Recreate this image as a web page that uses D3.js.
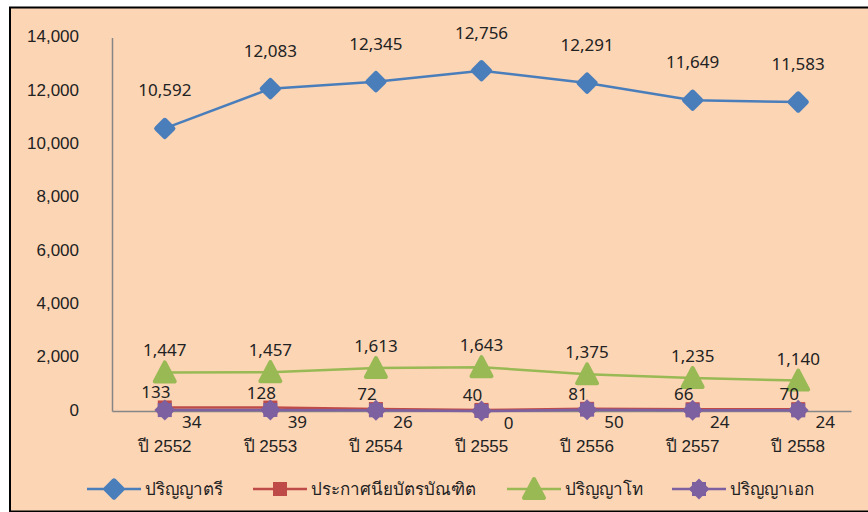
<!DOCTYPE html>
<html>
<head>
<meta charset="utf-8">
<script src="https://cdn.jsdelivr.net/npm/d3@7"></script>
<style>
  html, body { margin: 0; padding: 0; background: #ffffff; }
  svg { display: block; font-family: Tahoma, "Noto Sans", "DejaVu Sans", sans-serif; }
</style>
</head>
<body>
<svg id="chart" width="868" height="512"></svg>
<script>
// -----------------------------
// Data
// -----------------------------
const years = ["ปี 2552", "ปี 2553", "ปี 2554", "ปี 2555", "ปี 2556", "ปี 2557", "ปี 2558"];
const bachelor = [10592, 12083, 12345, 12756, 12291, 11649, 11583];
const gradDiploma = [133, 128, 72, 40, 81, 66, 70];
const master = [1447, 1457, 1613, 1643, 1375, 1235, 1140];
const doctorate = [34, 39, 26, 0, 50, 24, 24];
const yTicks = [0, 2000, 4000, 6000, 8000, 10000, 12000, 14000];

const series = [
  { name: "ปริญญาตรี", values: bachelor, color: "#4A7EBB", marker: "diamond", dx: 0, dy: -38 },
  { name: "ประกาศนียบัตรบัณฑิต", values: gradDiploma, color: "#BE4B48", marker: "square", dx: -9, dy: -15 },
  { name: "ปริญญาโท", values: master, color: "#98B954", marker: "triangle", dx: 0, dy: -22 },
  { name: "ปริญญาเอก", values: doctorate, color: "#7D60A0", marker: "star", dx: 27, dy: 12 },
];

const svg = d3.select("#chart");
const W = 868, H = 512;
const fmt = d3.format(",");
const textColor = "#222222";

// -----------------------------
// Frame
// -----------------------------
svg.append("rect")
  .attr("x", 10).attr("y", 7.5)
  .attr("width", W).attr("height", H - 8)
  .attr("fill", "#FCD5B5")
  .attr("stroke", "#000").attr("stroke-width", 2);

// -----------------------------
// Scales
// -----------------------------
const x = d3.scaleBand().domain(years).range([112, 851]).padding(0);
const cx = (i) => x(years[i]) + x.bandwidth() / 2;
const y = d3.scaleLinear().domain([0, 14000]).range([411, 37.5]);

// y axis
svg.append("g")
  .attr("transform", "translate(112,0)")
  .call(d3.axisLeft(y).tickValues(yTicks).tickSize(0).tickPadding(33).tickFormat(fmt))
  .call((g) => g.select(".domain").attr("stroke", "#868686").attr("stroke-width", 1.5))
  .call((g) => g.selectAll("text").attr("font-size", 17).attr("fill", textColor)
    .attr("dy", "0.25em").attr("font-family", null));

// x axis
svg.append("g")
  .attr("transform", "translate(0,411)")
  .call(d3.axisBottom(x).tickSize(0).tickPadding(29).tickSizeOuter(0))
  .call((g) => g.select(".domain").attr("stroke", "#868686").attr("stroke-width", 1.5))
  .call((g) => g.selectAll("text").attr("font-size", 17).attr("fill", textColor)
    .attr("font-family", null));

// -----------------------------
// Markers
// -----------------------------
function drawMarker(g, type, color, px, py) {
  if (type === "diamond") {
    const s = 16.5;
    g.append("rect")
      .attr("x", -s / 2).attr("y", -s / 2).attr("width", s).attr("height", s)
      .attr("rx", 2.5)
      .attr("transform", `translate(${px},${py}) rotate(45)`)
      .attr("fill", color);
  } else if (type === "square") {
    const s = 14;
    g.append("rect")
      .attr("x", px - s / 2).attr("y", py - s / 2).attr("width", s).attr("height", s)
      .attr("fill", color);
  } else if (type === "triangle") {
    const w = 20, h = 18;
    g.append("path")
      .attr("d", `M${px},${py - h / 2 - 1} L${px + w / 2},${py + h / 2} L${px - w / 2},${py + h / 2} Z`)
      .attr("fill", color).attr("stroke", color)
      .attr("stroke-width", 4).attr("stroke-linejoin", "round");
  } else if (type === "star") {
    const r = 10.5, s = 14;
    g.append("path")
      .attr("d", `M${px},${py - r} L${px + r},${py} L${px},${py + r} L${px - r},${py} Z`)
      .attr("fill", color);
    g.append("rect")
      .attr("x", px - s / 2).attr("y", py - s / 2).attr("width", s).attr("height", s)
      .attr("fill", color);
  }
}

// -----------------------------
// Lines
// -----------------------------
const line = d3.line().x((d, i) => cx(i)).y((d) => y(d));

series.forEach((s) => {
  svg.append("path")
    .datum(s.values)
    .attr("d", line)
    .attr("fill", "none")
    .attr("stroke", s.color)
    .attr("stroke-width", 2.5);
});

series.forEach((s) => {
  const g = svg.append("g");
  s.values.forEach((v, i) => drawMarker(g, s.marker, s.color, cx(i), y(v)));
});

// -----------------------------
// Data labels
// -----------------------------
series.forEach((s) => {
  svg.append("g")
    .selectAll("text")
    .data(s.values)
    .join("text")
    .attr("x", (d, i) => cx(i) + s.dx)
    .attr("y", (d) => y(d) + s.dy)
    .attr("dy", "0.35em")
    .attr("text-anchor", "middle")
    .attr("font-size", 17)
    .attr("fill", textColor)
    .text((d) => fmt(d));
});

// -----------------------------
// Legend
// -----------------------------
const legendX = [87, 253, 507, 672];
const legend = svg.append("g");
series.forEach((s, i) => {
  const lx = legendX[i], ly = 489;
  legend.append("line")
    .attr("x1", lx).attr("x2", lx + 54)
    .attr("y1", ly).attr("y2", ly)
    .attr("stroke", s.color).attr("stroke-width", 2.5);
  drawMarker(legend, s.marker, s.color, lx + 27, ly);
  legend.append("text")
    .attr("x", lx + 58).attr("y", ly).attr("dy", "0.35em")
    .attr("font-size", 17).attr("fill", textColor)
    .text(s.name);
});
</script>
</body>
</html>
